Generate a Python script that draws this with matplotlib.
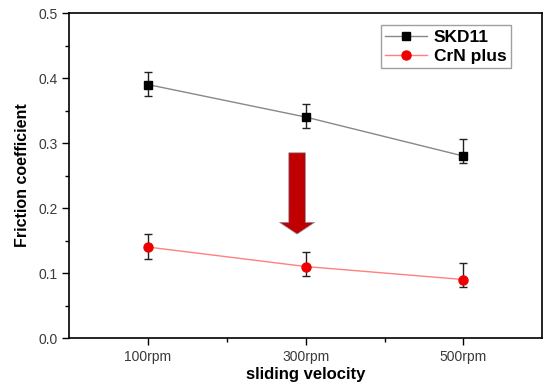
import matplotlib
matplotlib.use("Agg")
import matplotlib.pyplot as plt
from matplotlib.ticker import MultipleLocator
from matplotlib.lines import Line2D

plt.rcParams['font.family'] = ['Liberation Sans', 'DejaVu Sans']

# data
speeds = [100, 300, 500]
speed_labels = ['100rpm', '300rpm', '500rpm']
skd11 = [0.39, 0.34, 0.28]
skd11_lo = [0.017, 0.017, 0.010]
skd11_hi = [0.020, 0.020, 0.027]
crn = [0.14, 0.11, 0.09]
crn_lo = [0.018, 0.015, 0.012]
crn_hi = [0.020, 0.022, 0.025]

fig = plt.figure(figsize=(5.45, 3.85), dpi=100)
ax = fig.add_axes([0.127, 0.122, 0.868, 0.844])

ax.errorbar(speeds, skd11, yerr=[skd11_lo, skd11_hi], color='#888888', lw=1,
            marker='s', ms=5.5, mfc='black', mec='black',
            ecolor='#222222', elinewidth=1, capsize=3)
ax.errorbar(speeds, crn, yerr=[crn_lo, crn_hi], color='#ff8080', lw=1,
            marker='o', ms=6.5, mfc='#ee0000', mec='#ee0000',
            ecolor='#222222', elinewidth=1, capsize=3)

# red arrow between the two series
ax.annotate('', xy=(289, 0.16), xytext=(289, 0.285),
            arrowprops=dict(arrowstyle='simple,head_length=0.6,head_width=1.8,tail_width=0.85',
                            fc='#c00000', ec='#8a8aa8', lw=0.5, mutation_scale=14,
                            shrinkA=0, shrinkB=0))

ax.set_xlim(0, 600)
ax.set_ylim(0, 0.5)
ax.set_xticks(speeds)
ax.set_xticklabels(speed_labels)
ax.set_xticks([200, 400], minor=True)
ax.yaxis.set_major_locator(MultipleLocator(0.1))
ax.yaxis.set_minor_locator(MultipleLocator(0.05))
ax.tick_params(which='both', direction='out', top=False, right=False,
               labelsize=10, labelcolor='#3a3a3a', width=1)
ax.tick_params(which='major', length=5)
ax.tick_params(which='minor', length=3)
for s in ax.spines.values():
    s.set_linewidth(1.2)

ax.set_xlabel('sliding velocity', fontsize=12, fontweight='bold', labelpad=2)
ax.set_ylabel('Friction coefficient', fontsize=11.5, fontweight='bold', labelpad=6)

handles = [
    Line2D([], [], color='#888888', lw=1, marker='s', ms=5.5, mfc='black', mec='black'),
    Line2D([], [], color='#ff8080', lw=1, marker='o', ms=6.5, mfc='#ee0000', mec='#ee0000'),
]
leg = ax.legend(handles, ['SKD11', 'CrN plus'], loc='upper right',
                bbox_to_anchor=(0.934, 0.963), fancybox=False,
                prop={'weight': 'bold', 'size': 12.5}, handlelength=2.4,
                borderpad=0.25, labelspacing=0.25, handletextpad=0.4, borderaxespad=0)
leg.get_frame().set_edgecolor('#888888')
leg.get_frame().set_linewidth(1)

fig.savefig('out.png', dpi=100)
